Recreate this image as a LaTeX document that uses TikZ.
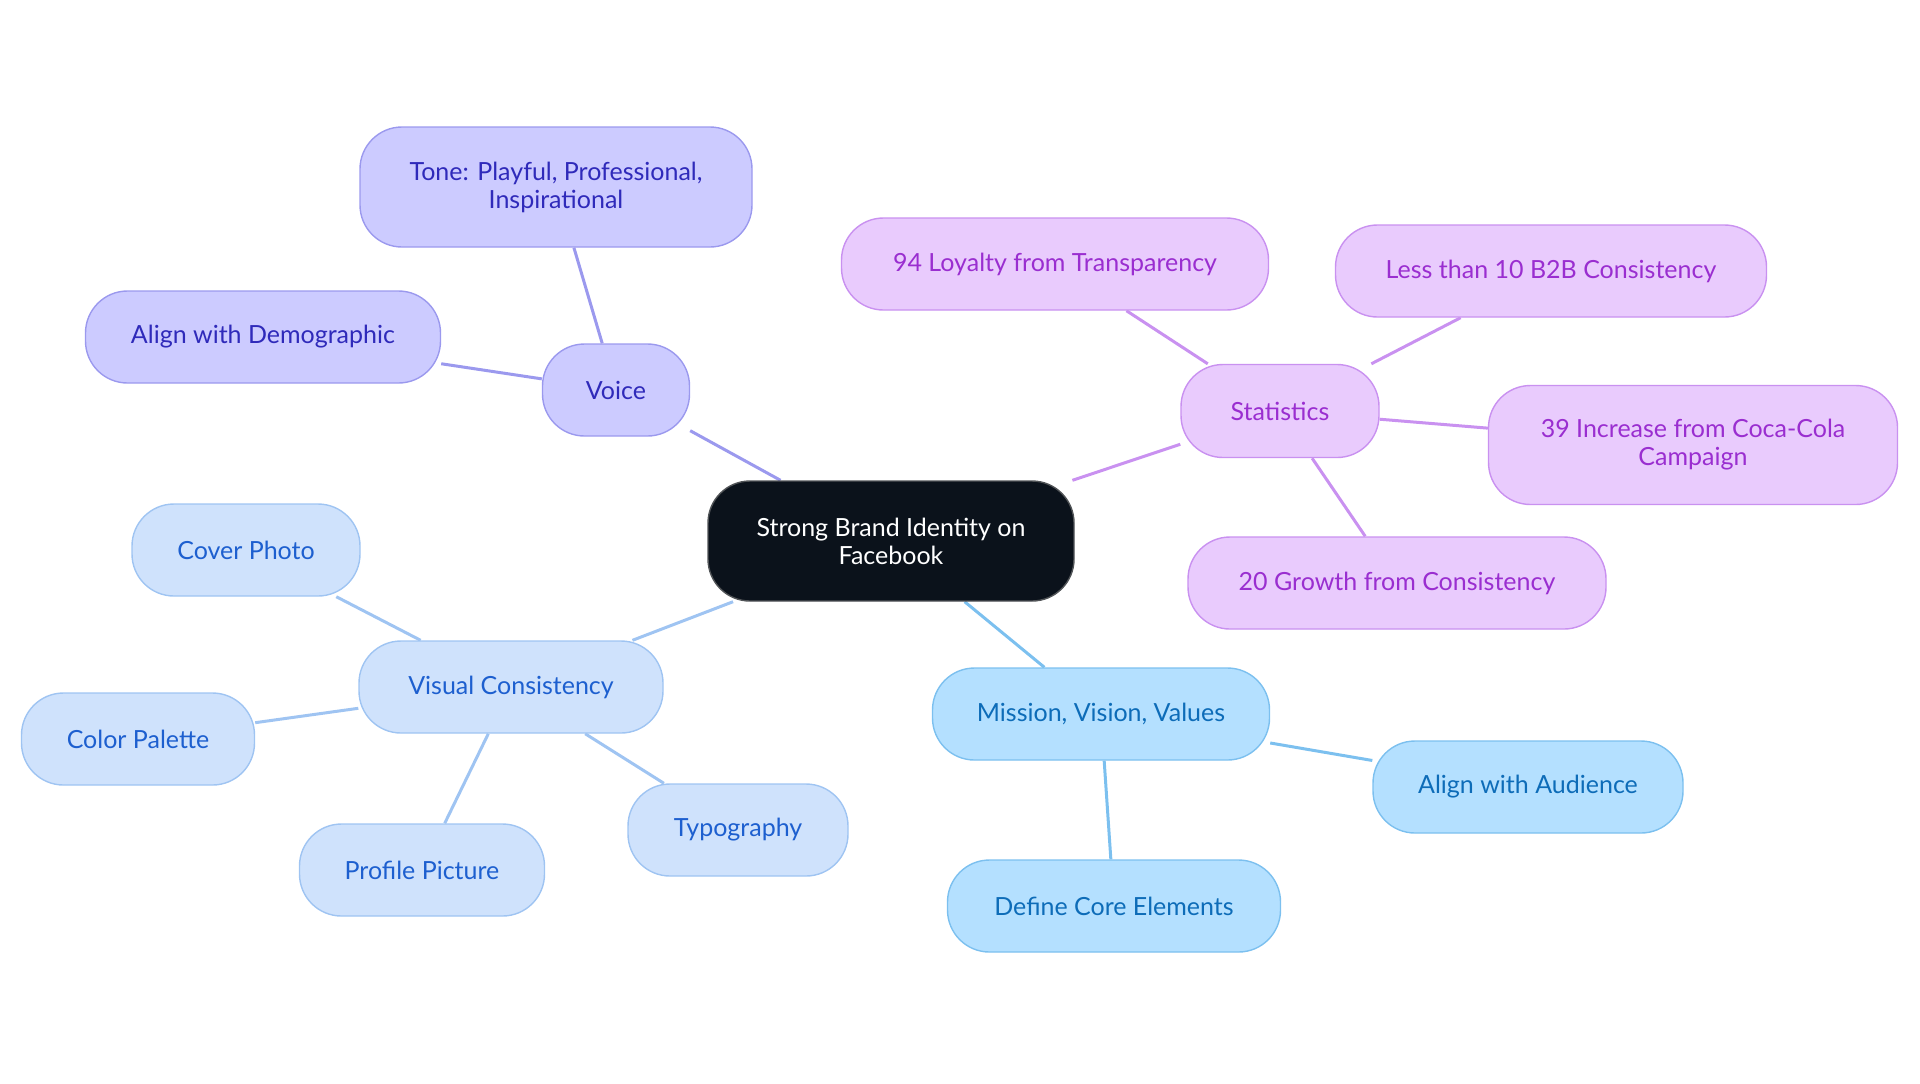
\documentclass[tikz,border=0pt]{standalone}
\usepackage{fontspec}
\setmainfont{Lato}
\usetikzlibrary{backgrounds}
\definecolor{vf}{HTML}{CCCBFF}\definecolor{vb}{HTML}{9B99EE}\definecolor{vt}{HTML}{2F2ABA}
\definecolor{sf}{HTML}{E9CBFD}\definecolor{sb}{HTML}{C991F0}\definecolor{st}{HTML}{9A2ED0}
\definecolor{cf}{HTML}{CFE2FC}\definecolor{cb}{HTML}{9FC4F2}\definecolor{ct}{HTML}{1D5FCF}
\definecolor{mf}{HTML}{B4E0FF}\definecolor{mb}{HTML}{7CC0EF}\definecolor{mt}{HTML}{0D6CB8}
\definecolor{dark}{HTML}{0B121B}
\begin{document}
\begin{tikzpicture}[x=0.5pt,y=-0.5pt,
 box/.style={draw,rounded corners=21pt,line width=0.7pt,align=center,inner sep=0pt,
   font=\fontsize{12.5}{14}\selectfont},
 sz/.style 2 args={minimum width=#1*0.5pt,minimum height=#2*0.5pt},
 V/.style={box,fill=vf,draw=vb,text=vt},
 S/.style={box,fill=sf,draw=sb,text=st},
 C/.style={box,fill=cf,draw=cb,text=ct},
 M/.style={box,fill=mf,draw=mb,text=mt},
 e/.style={line width=1.5pt}]
\useasboundingbox (0,0) rectangle (1920,1083);
\node[box,fill=dark,draw=gray!60!dark,text=white,sz={366}{120}] (c) at (891,541) {Strong Brand Identity on\\Facebook};
\node[V,sz={147}{92}] (v) at (616,390) {Voice};
\node[V,sz={392}{120}] (tone) at (556,187) {Tone: Playful, Professional,\\Inspirational};
\node[V,sz={355}{92}] (dem) at (263,337) {Align with Demographic};
\node[S,sz={198}{93}] (s) at (1280,411) {Statistics};
\node[S,sz={427}{92}] (s1) at (1055,264) {94 Loyalty from Transparency};
\node[S,sz={431}{92}] (s2) at (1551,271) {Less than 10 B2B Consistency};
\node[S,sz={409}{119}] (s3) at (1693,445) {39 Increase from Coca-Cola\\Campaign};
\node[S,sz={418}{92}] (s4) at (1397,583) {20 Growth from Consistency};
\node[C,sz={304}{92}] (vc) at (511,687) {Visual Consistency};
\node[C,sz={228}{92}] (cov) at (246,550) {Cover Photo};
\node[C,sz={233}{92}] (col) at (138,739) {Color Palette};
\node[C,sz={245}{92}] (pro) at (422,870) {Profile Picture};
\node[C,sz={220}{92}] (typ) at (738,830) {Typography};
\node[M,sz={337}{92}] (m) at (1101,714) {Mission, Vision, Values};
\node[M,sz={310}{92}] (aud) at (1528,787) {Align with Audience};
\node[M,sz={333}{92}] (def) at (1114,906) {Define Core Elements};
\begin{scope}[on background layer]
\draw[e,vb] (c)--(v) (v)--(tone) (v)--(dem);
\draw[e,sb] (c)--(s) (s)--(s1) (s)--(s2) (s)--(s3) (s)--(s4);
\draw[e,cb] (c)--(vc) (vc)--(cov) (vc)--(col) (vc)--(pro) (vc)--(typ);
\draw[e,mb] (c)--(m) (m)--(aud) (m)--(def);
\end{scope}
\end{tikzpicture}
\end{document}
